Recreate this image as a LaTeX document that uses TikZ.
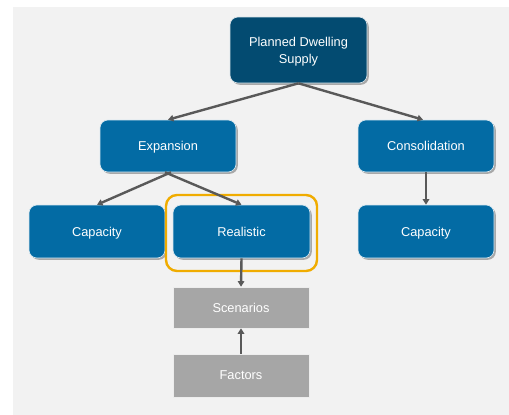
\documentclass[tikz,border=0pt]{standalone}
\usepackage{fontspec}
\setmainfont{Liberation Sans}
\usetikzlibrary{arrows.meta,shadows}
\definecolor{bgc}{HTML}{F2F2F2}
\definecolor{topc}{HTML}{034B71}
\definecolor{midc}{HTML}{036BA4}
\definecolor{grayc}{HTML}{A6A6A6}
\definecolor{orangec}{HTML}{F0AC00}
\definecolor{arrc}{HTML}{595959}
\tikzset{
  bluebox/.style={rectangle, rounded corners=8pt, fill=midc, draw=white!85!midc, line width=0.6pt,
    text=white, minimum width=136pt, minimum height=52pt, align=center,
    font=\fontsize{12.8}{17}\selectfont, text depth=0pt,
    drop shadow={shadow xshift=1.8pt, shadow yshift=-1.8pt, fill=black, opacity=0.3}},
  topbox/.style={bluebox, fill=topc, draw=white!85!topc, minimum width=137pt, minimum height=66pt},
  graybox/.style={rectangle, fill=grayc, draw=white!80!grayc, line width=0.6pt, text=white,
    minimum width=136pt, minimum height=41pt, font=\fontsize{12.8}{17}\selectfont, text depth=0pt},
  conn/.style={draw=arrc, line width=2.4pt, -{Triangle[length=5.5pt,width=6.5pt]}},
}
\begin{document}
\begin{tikzpicture}[x=1pt,y=-1pt]
\useasboundingbox (0,0) rectangle (509,415);
\fill[white] (0,0) rectangle (509,415);
\fill[bgc] (13,7) rectangle (509,415);

\node[topbox] (top) at (298.5,50) {Planned Dwelling\\Supply};
\node[bluebox] (exp) at (168,146) {Expansion};
\node[bluebox] (cons) at (426,146) {Consolidation};
\node[bluebox, minimum height=53pt] (capl) at (97,231.5) {Capacity};
\node[bluebox, minimum height=53pt, minimum width=137pt] (real) at (241.5,231.5) {Realistic};
\node[bluebox, minimum height=53pt] (capr) at (426,231.5) {Capacity};
\node[draw=orangec, line width=2.4pt, rounded corners=11pt, minimum width=151pt, minimum height=76pt] (frame) at (241.5,233) {};
\node[graybox] (scen) at (241,307.5) {Scenarios};
\node[graybox, minimum height=43pt] (fact) at (241,375.5) {Factors};

\draw[conn] (top.south) -- (exp.north);
\draw[conn] (top.south) -- ([xshift=-3pt]cons.north);
\draw[conn] (cons.south) -- (capr.north);
\draw[conn] ([xshift=3pt]exp.south) -- (capl.north);
\draw[conn] ([xshift=-3pt]exp.south) -- (real.north);
\draw[conn] (real.south) -- (scen.north);
\draw[conn] (fact.north) -- (scen.south);
\end{tikzpicture}
\end{document}
